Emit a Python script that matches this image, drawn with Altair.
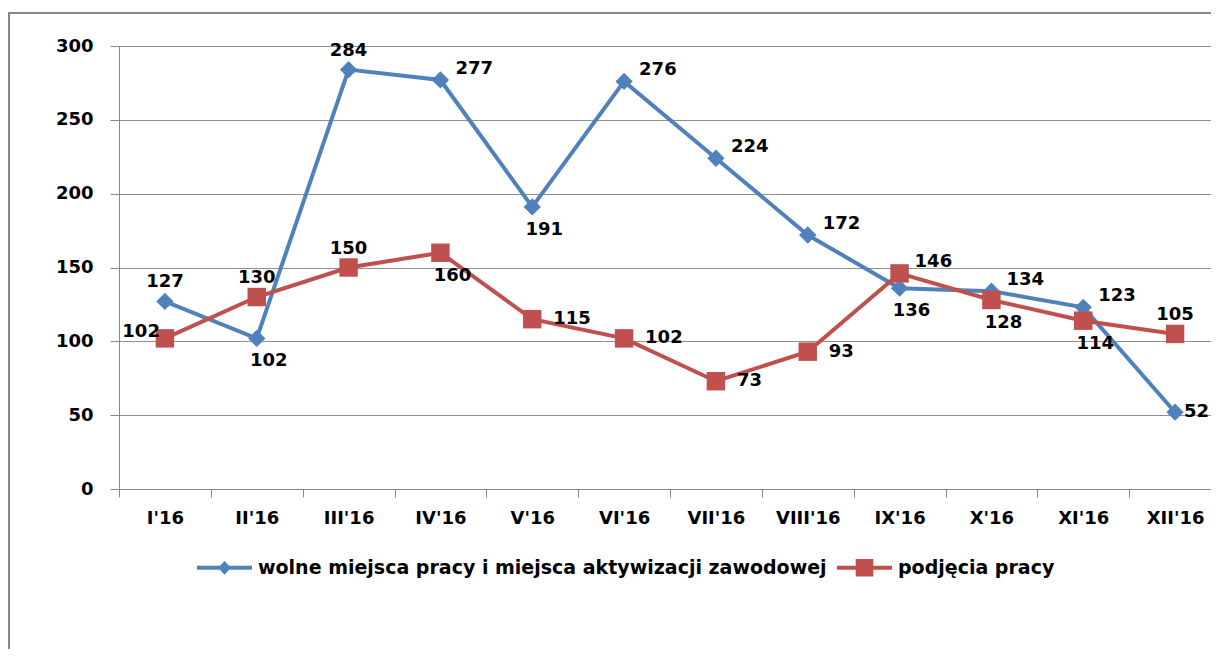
import altair as alt
import pandas as pd

months = ["I'16", "II'16", "III'16", "IV'16", "V'16", "VI'16",
          "VII'16", "VIII'16", "IX'16", "X'16", "XI'16", "XII'16"]
series_names = ["wolne miejsca pracy i miejsca aktywizacji zawodowej", "podjęcia pracy"]
wolne = [127, 102, 284, 277, 191, 276, 224, 172, 136, 134, 123, 52]
podjecia = [102, 130, 150, 160, 115, 102, 73, 93, 146, 128, 114, 105]
wolne_label_pos = ["above", "below", "above", "upright", "below", "upright",
                   "upright", "upright", "below", "upright", "upright", "rightnear"]
podjecia_label_pos = ["left", "above", "above", "below", "right", "right",
                      "right", "right", "upright", "below", "below", "above"]
colors = ["#4F81BD", "#C0504D"]
y_ticks = [0, 50, 100, 150, 200, 250, 300]

rows = []
for s, vals, poss in [(series_names[0], wolne, wolne_label_pos),
                      (series_names[1], podjecia, podjecia_label_pos)]:
    for m, v, p in zip(months, vals, poss):
        rows.append({"month": m, "series": s, "value": v, "pos": p})
df = pd.DataFrame(rows)

FONT = "DejaVu Sans"
W, H = 1092, 443
X_SPAN = 1102

x_enc = alt.X("month:N", sort=months, bandPosition=0.5,
              scale=alt.Scale(type="band", paddingInner=0, paddingOuter=0, range=[0, X_SPAN]),
              axis=alt.Axis(title=None, labelAngle=0, tickBand="extent", grid=False))
y_enc = alt.Y("value:Q", scale=alt.Scale(domain=[0, 300], nice=False),
              axis=alt.Axis(title=None, values=y_ticks, grid=True))

frame_data = alt.Data(values=[{"a": 1}])
frame_left = alt.Chart(frame_data).mark_rule(color="#878787", strokeWidth=2).encode(
    x=alt.value(-110), y=alt.value(-33), y2=alt.value(H + 400))
frame_top = alt.Chart(frame_data).mark_rule(color="#878787", strokeWidth=2).encode(
    x=alt.value(-111), x2=alt.value(W + 300), y=alt.value(-33))

layers = [frame_left, frame_top]
for name, col in zip(series_names, colors):
    layers.append(
        alt.Chart(df).transform_filter(alt.datum.series == name)
        .mark_line(color=col, strokeWidth=4).encode(x=x_enc, y=y_enc)
    )
shapes = [("diamond", 300), ("square", 340)]
for name, col, (shp, sz) in zip(series_names, colors, shapes):
    layers.append(
        alt.Chart(df).transform_filter(alt.datum.series == name)
        .mark_point(color=col, filled=True, opacity=1, shape=shp, size=sz, strokeWidth=0)
        .encode(x=x_enc, y=y_enc)
    )

label_styles = {
    "above": dict(align="center", dx=0, dy=-19),
    "below": dict(align="center", dx=12, dy=23),
    "upright": dict(align="left", dx=15, dy=-11),
    "right": dict(align="left", dx=21, dy=0),
    "rightnear": dict(align="left", dx=9, dy=0),
    "left": dict(align="right", dx=-5, dy=-6),
}
for cat, st in label_styles.items():
    layers.append(
        alt.Chart(df).transform_filter(alt.datum.pos == cat)
        .mark_text(font=FONT, fontSize=18, fontWeight="bold", color="#000000",
                   baseline="middle", **st)
        .encode(x=x_enc, y=y_enc, text="value:Q")
    )

blue_path = "M-1,-0.075H1V0.075H-1Z M0,-0.25L0.24,0L0,0.25L-0.24,0Z"
red_path = "M-1,-0.075H1V0.075H-1Z M-0.32,-0.32H0.32V0.32H-0.32Z"
leg = alt.Legend(title=None, orient="none", legendX=78, legendY=494, direction="horizontal")
legend_layer = alt.Chart(pd.DataFrame({"series": series_names})).mark_point(
    filled=True, opacity=1, clip=True, strokeWidth=0
).encode(
    x=alt.value(-3000), y=alt.value(-3000),
    color=alt.Color("series:N", sort=series_names,
                    scale=alt.Scale(domain=series_names, range=colors), legend=leg),
    shape=alt.Shape("series:N", sort=series_names,
                    scale=alt.Scale(domain=series_names, range=[blue_path, red_path]), legend=leg),
)
layers.append(legend_layer)

chart = alt.layer(*layers).properties(
    width=W, height=H,
    autosize=alt.AutoSizeParams(type="none"),
    padding={"left": 111, "top": 38, "right": 0, "bottom": 160},
    background="#ffffff",
).configure_view(stroke="transparent").configure_axis(
    domainColor="#888888", tickColor="#888888", gridColor="#8f8f8f",
    labelFont=FONT, labelFontSize=18, labelFontWeight="bold", labelColor="#000000",
    domainWidth=1, tickWidth=1, gridWidth=1,
).configure_axisY(tickSize=9, labelPadding=17).configure_axisX(
    tickSize=8, labelPadding=12
).configure_legend(
    labelFont=FONT, labelFontSize=19, labelFontWeight="bold", labelColor="#000000",
    symbolStrokeWidth=0, columnPadding=10, labelOffset=6, labelLimit=1000,
    symbolSize=3025, padding=0, symbolOpacity=1,
)

chart.save("out.html", embed_options={"renderer": "svg", "actions": False})
